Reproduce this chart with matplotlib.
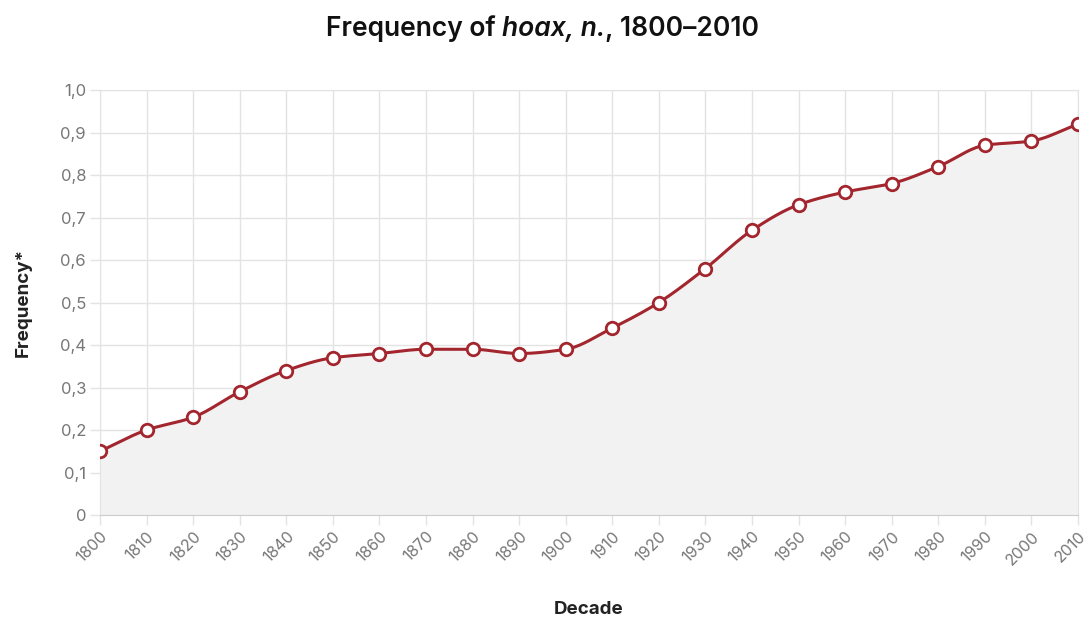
import matplotlib.pyplot as plt
import numpy as np

decades = [1800, 1810, 1820, 1830, 1840, 1850, 1860, 1870, 1880, 1890, 1900,
           1910, 1920, 1930, 1940, 1950, 1960, 1970, 1980, 1990, 2000, 2010]
freq = [0.15, 0.20, 0.23, 0.29, 0.34, 0.37, 0.38, 0.39, 0.39, 0.38, 0.39,
        0.44, 0.50, 0.58, 0.67, 0.73, 0.76, 0.78, 0.82, 0.87, 0.88, 0.92]
yticks = [0, 0.1, 0.2, 0.3, 0.4, 0.5, 0.6, 0.7, 0.8, 0.9, 1.0]
ylabels = ['0', '0,1', '0,2', '0,3', '0,4', '0,5', '0,6', '0,7', '0,8', '0,9', '1,0']

RED = '#a3262e'
GRID = '#e3e3e3'
TICK = '#777777'

plt.rcParams['font.family'] = ['Inter', 'DejaVu Sans']


def monotone(x, y, n=30):
    # monotone cubic (Fritsch-Carlson) just for the curve shape
    x = np.asarray(x, float); y = np.asarray(y, float)
    h = np.diff(x); d = np.diff(y) / h
    m = np.zeros_like(y)
    m[0], m[-1] = d[0], d[-1]
    for i in range(1, len(y) - 1):
        if d[i - 1] * d[i] <= 0:
            m[i] = 0
        else:
            w1 = 2 * h[i] + h[i - 1]; w2 = h[i] + 2 * h[i - 1]
            m[i] = (w1 + w2) / (w1 / d[i - 1] + w2 / d[i])
    xs, ys = [], []
    for i in range(len(h)):
        t = np.linspace(0, 1, n, endpoint=False)
        h00 = 2*t**3 - 3*t**2 + 1; h10 = t**3 - 2*t**2 + t
        h01 = -2*t**3 + 3*t**2; h11 = t**3 - t**2
        xs.append(x[i] + t * h[i])
        ys.append(h00*y[i] + h10*h[i]*m[i] + h01*y[i+1] + h11*h[i]*m[i+1])
    xs.append([x[-1]]); ys.append([y[-1]])
    return np.concatenate(xs), np.concatenate(ys)


fig = plt.figure(figsize=(10.89, 6.19), dpi=100)
ax = fig.add_axes([0.0918, 0.168, 0.8981, 0.6866])

sx, sy = monotone(decades, freq)
ax.fill_between(sx, sy, 0, color='#f2f2f2', zorder=1)
ax.plot(sx, sy, color=RED, lw=2.2, zorder=3)
ax.plot(decades, freq, 'o', ms=9, mfc='white', mec=RED, mew=2, zorder=4)

ax.set_xlim(1800, 2010)
ax.set_ylim(0, 1.0)
ax.set_xticks(decades)
ax.set_xticklabels([str(d) for d in decades], rotation=45, ha='right',
                   rotation_mode='anchor', color=TICK, fontsize=11.5)
ax.set_yticks(yticks)
ax.set_yticklabels(ylabels, color=TICK, fontsize=12)
ax.tick_params(axis='both', length=7, color=GRID, width=1, pad=3)
ax.grid(True, color=GRID, lw=1, zorder=0)
ax.set_axisbelow(True)
for s in ['top', 'right']:
    ax.spines[s].set_color(GRID)
ax.spines['left'].set_color(GRID)
ax.spines['bottom'].set_color('#cccccc')

ax.set_xlabel('Decade', fontsize=13.5, fontweight='bold', color='#222222', labelpad=24)
ax.set_ylabel('Frequency*', fontsize=13.5, fontweight='bold', color='#222222', labelpad=20)

# title with an italic part, laid out piece by piece
parts = [('Frequency of ', 'normal'), ('hoax, n.', 'italic'), (', 1800\u20132010', 'normal')]
fig.canvas.draw()
r = fig.canvas.get_renderer()
texts = []
for s, st in parts:
    t = fig.text(0, 0.953, s, fontsize=19, fontweight='semibold', style=st,
                 color='#111111', va='center', ha='left')
    texts.append(t)
widths = [t.get_window_extent(r).width for t in texts]
x0 = (fig.bbox.width - sum(widths)) / 2 - 2
for t, w in zip(texts, widths):
    t.set_x(x0 / fig.bbox.width)
    x0 += w

fig.savefig('out.png', dpi=100)
